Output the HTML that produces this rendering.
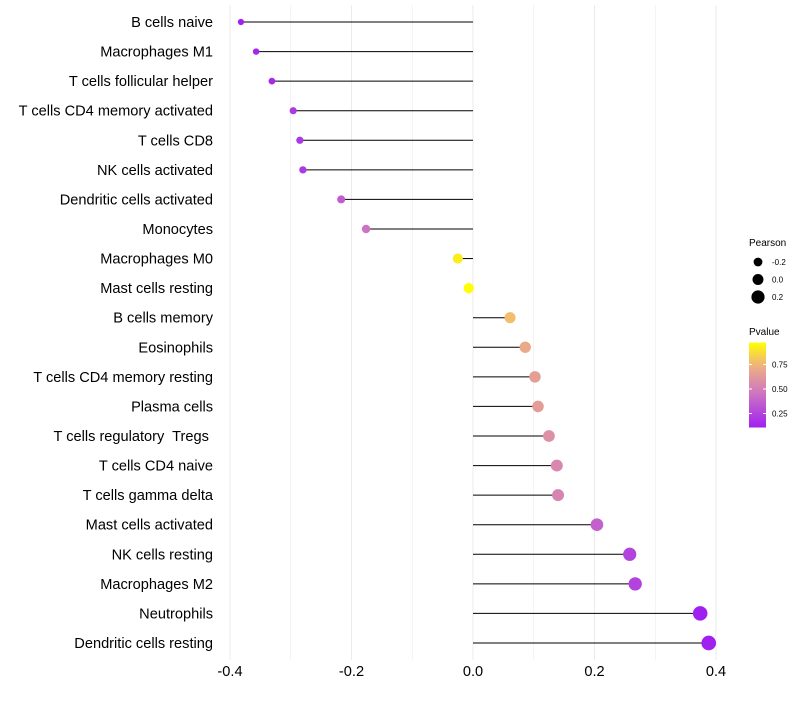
<!DOCTYPE html>
<html><head><meta charset="utf-8"><style>
body{margin:0;background:#fff;font-family:"Liberation Sans",sans-serif}
text{white-space:pre}
</style></head><body>
<svg id="c" width="800" height="700" xmlns="http://www.w3.org/2000/svg"></svg>
<script>
const categories=["B cells naive","Macrophages M1","T cells follicular helper","T cells CD4 memory activated","T cells CD8","NK cells activated","Dendritic cells activated","Monocytes","Macrophages M0","Mast cells resting","B cells memory","Eosinophils","T cells CD4 memory resting","Plasma cells","T cells regulatory  Tregs ","T cells CD4 naive","T cells gamma delta","Mast cells activated","NK cells resting","Macrophages M2","Neutrophils","Dendritic cells resting"];
const pearson=[-0.382,-0.357,-0.331,-0.296,-0.285,-0.280,-0.217,-0.176,-0.025,-0.007,0.061,0.086,0.102,0.107,0.125,0.138,0.140,0.204,0.258,0.267,0.374,0.388];
const pvalue=[0.10,0.14,0.15,0.20,0.20,0.21,0.35,0.45,0.92,0.97,0.78,0.70,0.65,0.64,0.58,0.54,0.53,0.37,0.25,0.25,0.10,0.08];
const xTicks=[-0.4,-0.2,0.0,0.2,0.4];
const xTickLabels=["-0.4","-0.2","0.0","0.2","0.4"];
const sizeLegend=[-0.2,0.0,0.2];
const pTicks=[0.25,0.5,0.75];

const NS="http://www.w3.org/2000/svg";
const svg=document.getElementById('c');
const X=v=>473+v*607.5;
const Y=i=>22+i*(621/21);
const R=v=>Math.max(1.5,5.2+5.5*v);
const PY=p=>389-(p-0.5)*98;
function col(p){
 const st=[[0.107,[160,32,240]],[0.45,[205,115,195]],[0.75,[240,180,125]],[0.974,[255,255,0]]];
 p=Math.max(st[0][0],Math.min(st[3][0],p));
 for(let k=0;k<3;k++){const a=st[k],b=st[k+1];if(p<=b[0]){const t=(p-a[0])/(b[0]-a[0]);return 'rgb('+a[1].map((c,j)=>Math.round(c+(b[1][j]-c)*t)).join(',')+')';}}
 return 'rgb(255,255,0)';
}
function el(t,a,txt){const e=document.createElementNS(NS,t);for(const k in a)e.setAttribute(k,a[k]);if(txt!==undefined)e.textContent=txt;svg.appendChild(e);return e;}

for(let v=-0.4;v<=0.401;v+=0.1){
 const g=el('line',{x1:X(v),x2:X(v),y1:5,y2:660,stroke:'#ebebeb','stroke-width':Math.abs(Math.round(v*10))%2===0?1:0.6});
 
 
}
xTicks.forEach((v,i)=>{
 const t=el('text',{x:X(v),y:676,'font-size':14.6,'text-anchor':'middle',fill:'#000'},xTickLabels[i]);
 
 
});
categories.forEach((c,i)=>{
 const t=el('text',{x:213,y:Y(i)+5,'font-size':14.6,'text-anchor':'end',fill:'#000'},c);
 
 
 const l=el('line',{x1:X(0),x2:X(pearson[i]),y1:Y(i),y2:Y(i),stroke:'#000','stroke-width':1});
 
 
 const d=el('circle',{cx:X(pearson[i]),cy:Y(i),r:R(pearson[i]),fill:col(pvalue[i])});
 
 
});
let t=el('text',{x:749,y:246,'font-size':10},'Pearson');


sizeLegend.forEach((v,i)=>{
 const cy=262+i*17.5;
 const c=el('circle',{cx:758,cy:cy,r:R(v)+0.3,fill:'#000'});
 
 
 const l=el('text',{x:772,y:cy+3,'font-size':8},v.toFixed(1));
 
 
});
t=el('text',{x:749,y:335,'font-size':10},'Pvalue');


const defs=el('defs',{});
const lg=document.createElementNS(NS,'linearGradient');lg.id='pg';lg.setAttribute('x1','0');lg.setAttribute('x2','0');lg.setAttribute('y1','1');lg.setAttribute('y2','0');
for(let k=0;k<=10;k++){const p=0.107+k*(0.974-0.107)/10;const s=document.createElementNS(NS,'stop');s.setAttribute('offset',k/10);s.setAttribute('stop-color',col(p));lg.appendChild(s);}
defs.appendChild(lg);
const bar=el('rect',{x:749,y:PY(0.974),width:17,height:PY(0.107)-PY(0.974),fill:'url(#pg)'});


pTicks.forEach(p=>{
 const a=el('line',{x1:749,x2:752,y1:PY(p),y2:PY(p),stroke:'#fff'});
 
 
 const b=el('line',{x1:763,x2:766,y1:PY(p),y2:PY(p),stroke:'#fff'});
 
 
 const l=el('text',{x:772,y:PY(p)+3,'font-size':8},p.toFixed(2));
 
 
});
</script>
</body></html>
